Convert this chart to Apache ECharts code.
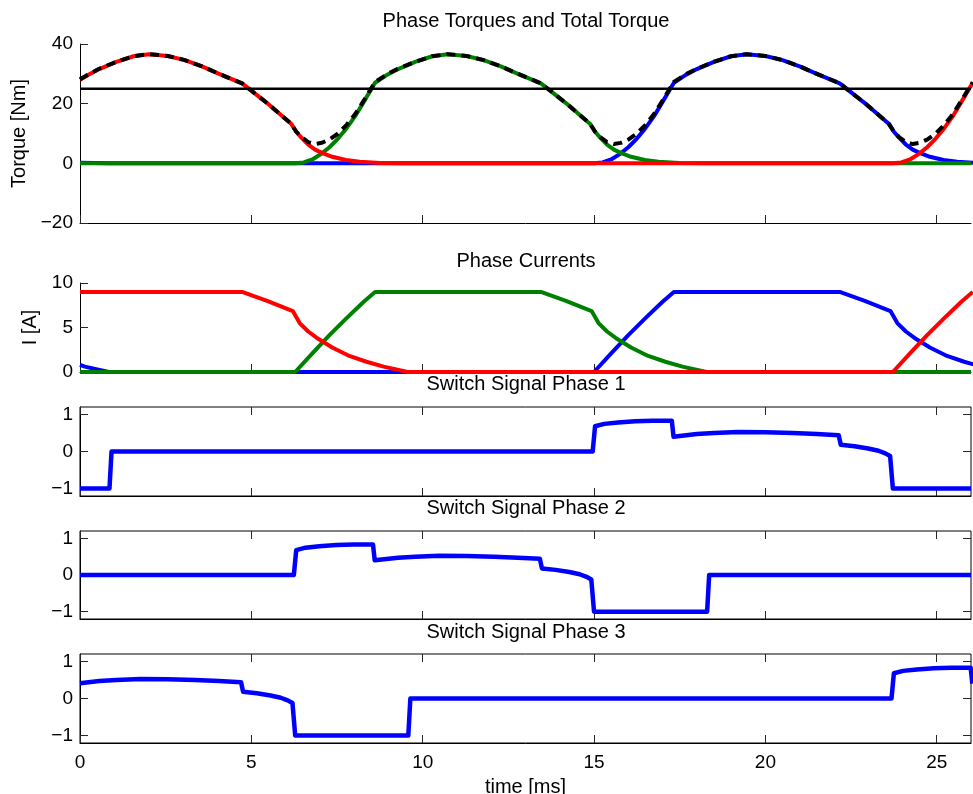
<!DOCTYPE html>
<html>
<head>
<meta charset="utf-8">
<title>Phase Torques and Total Torque</title>
<script src="https://cdn.jsdelivr.net/npm/echarts@6/dist/echarts.min.js"></script>
<style>
  html, body { margin: 0; padding: 0; background: #ffffff; }
  #chart { width: 973px; height: 794px; }
</style>
</head>
<body>
<div id="chart"></div>
<script>
// ---- data: time [ms] / value pairs ----
const timeTicks = [0, 5, 10, 15, 20, 25];
const signalTicks = [-1, 0, 1];
const refTorque = [[0, 25], [26, 25]];

const blueTorque = [[0, 0.16], [0.84, 0], [15.0, 0], [15.25, 0.3], [15.5, 1.3], [15.75, 3.1], [16.0, 5.4], [16.25, 8.3], [16.5, 11.8], [16.75, 15.8], [17.0, 20.6], [17.2, 24.5], [17.33, 27.0], [17.7, 29.8], [18.0, 31.6], [18.5, 34.0], [19.0, 35.9], [19.45, 36.6], [20.0, 36.0], [20.5, 34.6], [21.0, 32.5], [21.5, 30.0], [22.17, 26.8], [22.9, 20.2], [23.6, 13.3], [23.75, 10.6], [23.9, 8.6], [24.1, 6.3], [24.3, 4.6], [24.5, 3.5], [24.8, 2.2], [25.2, 1.1], [25.6, 0.5], [26.2, 0.15]];

const greenTorque = [[0, 0], [6.28, 0], [6.53, 0.3], [6.78, 1.3], [7.03, 3.1], [7.28, 5.4], [7.53, 8.3], [7.78, 11.8], [8.03, 15.8], [8.28, 20.6], [8.48, 24.5], [8.61, 27.0], [8.98, 29.8], [9.28, 31.6], [9.78, 34.0], [10.28, 35.9], [10.73, 36.6], [11.28, 36.0], [11.78, 34.6], [12.28, 32.5], [12.78, 30.0], [13.45, 26.8], [14.18, 20.2], [14.88, 13.3], [15.03, 10.6], [15.18, 8.6], [15.38, 6.3], [15.58, 4.6], [15.78, 3.5], [16.08, 2.2], [16.48, 1.1], [16.88, 0.5], [17.48, 0.15], [18.28, 0], [26, 0]];

const redTorque = [[0, 28.0], [0.26, 29.8], [0.56, 31.6], [1.06, 34.0], [1.56, 35.9], [2.01, 36.6], [2.56, 36.0], [3.06, 34.6], [3.56, 32.5], [4.06, 30.0], [4.73, 26.8], [5.46, 20.2], [6.16, 13.3], [6.31, 10.6], [6.46, 8.6], [6.66, 6.3], [6.86, 4.6], [7.06, 3.5], [7.36, 2.2], [7.76, 1.1], [8.16, 0.5], [8.76, 0.15], [9.56, 0], [23.72, 0], [23.97, 0.3], [24.22, 1.3], [24.47, 3.1], [24.72, 5.4], [24.97, 8.3], [25.22, 11.8], [25.47, 15.8], [25.72, 20.6], [25.92, 24.5], [26.05, 27.0]];

const totalTorque = [[0, 28.2], [0.26, 29.9], [0.56, 31.7], [1.06, 34.0], [1.56, 35.9], [2.01, 36.6], [2.56, 36.0], [3.06, 34.6], [3.56, 32.5], [4.06, 30.0], [4.73, 26.8], [5.46, 20.2], [6.16, 13.3], [6.31, 10.6], [6.46, 8.8], [6.66, 7.1], [6.86, 6.5], [7.06, 6.9], [7.28, 8.0], [7.53, 10.0], [7.78, 12.9], [8.03, 16.5], [8.28, 21.0], [8.48, 24.8], [8.61, 27.25], [8.98, 30.0], [9.28, 31.7], [9.78, 34.05], [10.28, 35.9], [10.73, 36.6], [11.28, 36.0], [11.78, 34.6], [12.28, 32.5], [12.78, 30.0], [13.45, 26.8], [14.18, 20.2], [14.88, 13.3], [15.03, 10.6], [15.18, 8.8], [15.38, 7.1], [15.58, 6.45], [15.78, 6.85], [16.0, 7.95], [16.25, 10.0], [16.5, 12.9], [16.75, 16.5], [17.0, 21.05], [17.2, 24.85], [17.33, 27.3], [17.7, 30.0], [18.0, 31.7], [18.5, 34.05], [19.0, 35.9], [19.45, 36.6], [20.0, 36.0], [20.5, 34.6], [21.0, 32.5], [21.5, 30.0], [22.17, 26.8], [22.9, 20.2], [23.6, 13.3], [23.75, 10.6], [23.9, 8.8], [24.1, 7.1], [24.3, 6.45], [24.5, 6.85], [24.72, 7.95], [24.97, 10.0], [25.22, 12.9], [25.47, 16.5], [25.72, 21.05], [25.92, 24.8], [26.05, 27.2]];

const blueCurrent = [[0, 0.8], [0.14, 0.6], [0.54, 0.25], [0.84, 0], [15.0, 0], [15.5, 2.1], [16.0, 4.15], [16.5, 6.05], [17.0, 7.9], [17.33, 9.0], [22.17, 9.0], [22.9, 8.0], [23.65, 6.85], [23.85, 5.5], [24.1, 4.55], [24.4, 3.7], [24.8, 2.75], [25.3, 1.8], [25.8, 1.15], [26.3, 0.6]];

const greenCurrent = [[0, 0], [6.28, 0], [6.78, 2.1], [7.28, 4.15], [7.78, 6.05], [8.28, 7.9], [8.61, 9.0], [13.45, 9.0], [14.18, 8.0], [14.93, 6.85], [15.13, 5.5], [15.38, 4.55], [15.68, 3.7], [16.08, 2.75], [16.58, 1.8], [17.08, 1.15], [17.58, 0.6], [17.98, 0.25], [18.28, 0], [26, 0]];

const redCurrent = [[0, 9.0], [4.73, 9.0], [5.46, 8.0], [6.21, 6.85], [6.41, 5.5], [6.66, 4.55], [6.96, 3.7], [7.36, 2.75], [7.86, 1.8], [8.36, 1.15], [8.86, 0.6], [9.26, 0.25], [9.56, 0], [23.72, 0], [24.22, 2.1], [24.72, 4.15], [25.22, 6.05], [25.72, 7.9], [26.05, 9.0]];

const switchPhase1 = [[0, -1], [0.86, -1], [0.92, 0], [14.96, 0], [15.03, 0.68], [15.3, 0.745], [15.7, 0.785], [16.2, 0.815], [16.7, 0.83], [17.27, 0.83], [17.32, 0.40], [18.0, 0.47], [18.5, 0.50], [19.2, 0.525], [20.0, 0.52], [20.8, 0.50], [21.5, 0.47], [22.14, 0.44], [22.2, 0.18], [22.6, 0.14], [23.0, 0.08], [23.3, 0.02], [23.5, -0.05], [23.64, -0.12], [23.72, -1], [26, -1]];

const switchPhase2 = [[0, 0], [6.24, 0], [6.31, 0.68], [6.58, 0.745], [6.98, 0.785], [7.48, 0.815], [7.98, 0.83], [8.55, 0.83], [8.60, 0.40], [9.28, 0.47], [9.78, 0.50], [10.48, 0.525], [11.28, 0.52], [12.08, 0.50], [12.78, 0.47], [13.42, 0.44], [13.48, 0.18], [13.88, 0.14], [14.28, 0.08], [14.58, 0.02], [14.78, -0.05], [14.92, -0.12], [15.0, -1], [18.3, -1], [18.36, 0], [26, 0]];

const switchPhase3 = [[0, 0.41], [0.56, 0.47], [1.06, 0.50], [1.76, 0.525], [2.56, 0.52], [3.36, 0.50], [4.06, 0.47], [4.70, 0.44], [4.76, 0.18], [5.16, 0.14], [5.56, 0.08], [5.86, 0.02], [6.06, -0.05], [6.20, -0.12], [6.28, -1], [9.58, -1], [9.64, 0], [23.68, 0], [23.75, 0.68], [24.02, 0.745], [24.42, 0.785], [24.92, 0.815], [25.42, 0.83], [25.99, 0.83], [26.04, 0.40]];

const panelTitles = ['Phase Torques and Total Torque', 'Phase Currents', 'Switch Signal Phase 1', 'Switch Signal Phase 2', 'Switch Signal Phase 3'];

// ---- styling ----
const FONT = 'Liberation Sans, Arial, Helvetica, sans-serif';
const RED = '#ff0000', GREEN = '#008000', BLUE = '#0000ff', BLACK = '#000000';
const TICK_COLOR = '#262626';

const minus = v => (v < 0 ? '\u2212' + Math.abs(v) : String(v));

const panels = [
  { top: 44, height: 179, box: false },
  { top: 283, height: 89, box: false },
  { top: 407, height: 89, box: true },
  { top: 531, height: 88, box: true },
  { top: 654, height: 89, box: true }
];
const titleY = [21, 261, 384, 508, 632];

// fixed plot rectangles: labels and names are placed outside them without resizing
const grid = panels.map(p => ({
  left: 80, top: p.top, width: 891, height: p.height,
  show: p.box, borderColor: BLACK, borderWidth: 1, backgroundColor: 'transparent',
  containLabel: false, outerBoundsMode: 'none'
}));

const labelStyle = { color: BLACK, fontFamily: FONT, fontSize: 19 };
const nameStyle = { color: BLACK, fontFamily: FONT, fontSize: 20 };

function timeAxis(gi, position, withLabels) {
  const ax = {
    type: 'value', gridIndex: gi, position: position, min: 0, max: 26,
    axisLine: { show: position === 'bottom', onZero: false, lineStyle: { color: BLACK, width: 1 } },
    axisTick: { show: true, inside: true, length: 8, customValues: timeTicks, lineStyle: { color: TICK_COLOR, width: 1 } },
    axisLabel: Object.assign({ show: withLabels, margin: 10, customValues: timeTicks }, labelStyle),
    splitLine: { show: false }
  };
  if (withLabels) {
    ax.name = 'time [ms]';
    ax.nameLocation = 'middle';
    ax.nameGap = 34;
    ax.nameTextStyle = nameStyle;
  }
  return ax;
}

const xAxis = [
  timeAxis(0, 'bottom', false),
  timeAxis(1, 'bottom', false),
  timeAxis(2, 'bottom', false),
  timeAxis(3, 'bottom', false),
  timeAxis(4, 'bottom', true),
  timeAxis(2, 'top', false),
  timeAxis(3, 'top', false),
  timeAxis(4, 'top', false)
];

function valueAxis(gi, cfg) {
  const ax = {
    type: 'value', gridIndex: gi, position: cfg.position || 'left',
    min: cfg.min, max: cfg.max,
    axisLine: { show: cfg.position !== 'right', onZero: false, lineStyle: { color: BLACK, width: 1 } },
    axisTick: { show: true, inside: true, length: 8, lineStyle: { color: TICK_COLOR, width: 1 } },
    axisLabel: Object.assign({ show: cfg.position !== 'right', margin: 7, formatter: minus }, labelStyle),
    splitLine: { show: false }
  };
  if (cfg.interval != null) ax.interval = cfg.interval;
  if (cfg.ticks) {
    ax.axisTick.customValues = cfg.ticks;
    ax.axisLabel.customValues = cfg.ticks;
  }
  if (cfg.name) {
    ax.name = cfg.name;
    ax.nameLocation = 'middle';
    ax.nameRotate = 90;
    ax.nameGap = cfg.nameGap;
    ax.nameTextStyle = nameStyle;
  }
  return ax;
}

const yAxis = [
  valueAxis(0, { min: -20, max: 40, interval: 20, name: 'Torque [Nm]', nameGap: 43 }),
  valueAxis(1, { min: 0, max: 10, interval: 5, name: 'I [A]', nameGap: 31 }),
  valueAxis(2, { min: -1.2, max: 1.2, ticks: signalTicks }),
  valueAxis(3, { min: -1.2, max: 1.2, ticks: signalTicks }),
  valueAxis(4, { min: -1.2, max: 1.2, ticks: signalTicks }),
  valueAxis(2, { min: -1.2, max: 1.2, ticks: signalTicks, position: 'right' }),
  valueAxis(3, { min: -1.2, max: 1.2, ticks: signalTicks, position: 'right' }),
  valueAxis(4, { min: -1.2, max: 1.2, ticks: signalTicks, position: 'right' })
];

function line(data, axisIndex, color, width, dash) {
  return {
    type: 'line', xAxisIndex: axisIndex, yAxisIndex: axisIndex, data: data,
    showSymbol: false, symbol: 'none', silent: true, clip: true,
    lineStyle: { color: color, width: width, type: dash || 'solid', cap: 'butt', join: 'round' },
    itemStyle: { color: color },
    emphasis: { disabled: true }
  };
}

const series = [
  line(blueTorque, 0, BLUE, 4),
  line(greenTorque, 0, GREEN, 4),
  line(redTorque, 0, RED, 4),
  line(totalTorque, 0, BLACK, 4, [9, 6]),
  line(refTorque, 0, BLACK, 2.5),
  line(blueCurrent, 1, BLUE, 4),
  line(greenCurrent, 1, GREEN, 4),
  line(redCurrent, 1, RED, 4),
  line(switchPhase1, 2, BLUE, 4.5),
  line(switchPhase2, 3, BLUE, 4.5),
  line(switchPhase3, 4, BLUE, 4.5)
];

const graphic = panelTitles.map((t, i) => ({
  type: 'text', x: 526, y: titleY[i], silent: true,
  style: {
    text: t, fill: BLACK, font: '20px ' + FONT,
    align: 'center', verticalAlign: 'middle',
    textAlign: 'center', textVerticalAlign: 'middle'
  }
}));

const chart = echarts.init(document.getElementById('chart'), null, { renderer: 'canvas' });
chart.setOption({
  animation: false,
  backgroundColor: '#ffffff',
  textStyle: { fontFamily: FONT },
  grid: grid,
  xAxis: xAxis,
  yAxis: yAxis,
  series: series,
  graphic: graphic
});
</script>
</body>
</html>
